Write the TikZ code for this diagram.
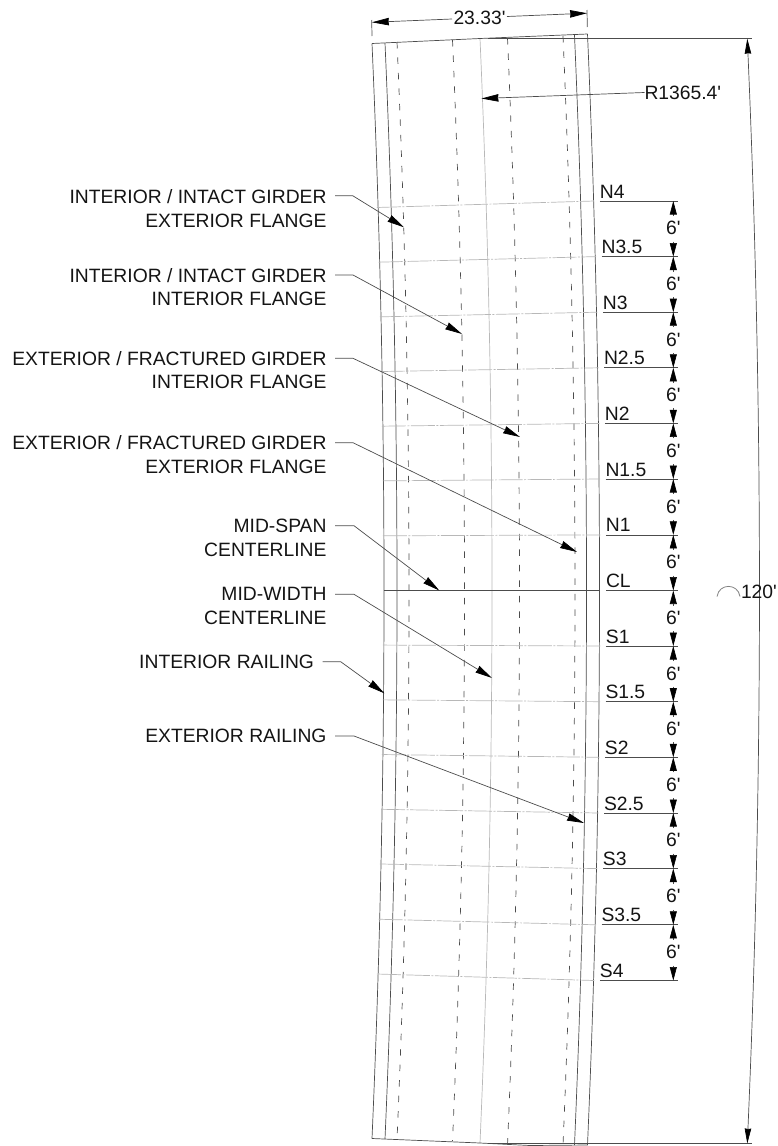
\documentclass[tikz,border=0pt]{standalone}
\usepackage{fontspec}
\setmainfont{Liberation Sans}[Ligatures=TeXOff]
\usetikzlibrary{arrows.meta}
\definecolor{ink}{gray}{0.08}
\definecolor{linegray}{gray}{0.30}
\definecolor{palegray}{gray}{0.72}
\newcommand{\railcurve}[4][]{% options, x at ends, y top, y bottom
  \draw[#1] (#2,#3) .. controls ({#2+16},{#3+(590-#3)*2/3}) and ({#2+16},{#4-(#4-590)*2/3}) .. (#2,#4);}
\tikzset{
  lbl/.style={font=\fontsize{19.3}{23.4}\selectfont,text=ink,inner sep=0pt,outer sep=0pt},
  railline/.style={draw=linegray,line width=0.7pt},
  dashline/.style={draw=linegray,line width=0.7pt,dash pattern=on 6.5pt off 9pt},
  centerline/.style={draw=palegray,line width=0.7pt},
  stationline/.style={draw=palegray,line width=0.7pt,dash pattern=on 24pt off 1.5pt on 2pt off 1.5pt},
  refline/.style={draw=linegray,line width=0.75pt},
  leaderline/.style={draw=linegray,line width=0.7pt,-{Stealth[inset=0.5pt,length=17pt,width=7.5pt,color=black]}},
  dimtip/.style={draw=linegray,line width=0.6pt,-{Stealth[inset=0pt,length=13.5pt,width=7pt,color=black]}},
}
\begin{document}
\begin{tikzpicture}[x=1pt,y=-1pt]
\useasboundingbox (0,0) rectangle (777,1146);
% longitudinal lines
\railcurve[railline]{372}{43.5}{1138.5}
\railcurve[railline]{385}{43}{1139}
\railcurve[dashline]{397}{42}{1139.5}
\railcurve[dashline]{452.5}{40}{1141}
\railcurve[centerline]{480}{38.5}{1143}
\railcurve[dashline]{507.5}{38}{1145}
\railcurve[dashline]{563}{36}{1145}
\railcurve[railline]{574.5}{35}{1145}
\railcurve[railline]{587.5}{34}{1145}
% ends
\draw[railline] (372,43.5) -- (480,38.5) -- (587.5,34);
\draw[railline] (372,1138.5) -- (480,1143) -- (530,1145.5) -- (587.5,1145);
% stations
\foreach \i/\name/\yy in {1/N4/201,2/N3.5/256.6,3/N3/312.2,4/N2.5/367.8,5/N2/423.4,6/N1.5/479,7/N1/534.9,9/S1/646,10/S1.5/701.7,11/S2/757.3,12/S2.5/813,13/S3/868.6,14/S3.5/924.8,15/S4/980.5}{
  \pgfmathsetmacro{\tt}{(\yy-590)/548}
  \pgfmathsetmacro{\bow}{12*(1-\tt*\tt)}
  \pgfmathsetmacro{\xl}{371+\bow}
  \pgfmathsetmacro{\xr}{588.5+\bow}
  \pgfmathsetmacro{\xs}{594+\bow}
  \pgfmathsetmacro{\yl}{\yy+(590.5-\yy)/60}
  \draw[stationline] (\xl,\yl) -- (\xr,\yy);
  \coordinate (m\i) at (678,\yy);
  \coordinate (s\i) at (\xs,\yy);
  \draw[refline] (s\i) -- (m\i);
  \node[lbl,anchor=base west] (t\i) at (\xs,{\yy-3}) {\name};
}
% centerline station
\draw[draw=linegray,line width=0.75pt] (384,590.5) -- (600,590.5);
\coordinate (m8) at (678,590.5);
\coordinate (s8) at (606,590.5);
\draw[refline] (s8) -- (m8);
\node[lbl,anchor=base west] (t8) at (606,587.5) {CL};
% six-foot dimensions
\foreach \i/\yy/\yb in {1/201/256.6,2/256.6/312.2,3/312.2/367.8,4/367.8/423.4,5/423.4/479,6/479/534.9,7/534.9/590.5,8/590.5/646,9/646/701.7,10/701.7/757.3,11/757.3/813,12/813/868.6,13/868.6/924.8,14/924.8/980.5}{
  \node[lbl] (d\i) at (673.3,{(\yy+\yb)/2-0.5}) {6'};
  \coordinate (du\i) at (673.3,\yy);
  \coordinate (dl\i) at (673.3,\yb);
  \coordinate (su\i) at (673.3,{\yy+15});
  \coordinate (sl\i) at (673.3,{\yb-15});
  \draw[dimtip] (su\i) -- (du\i);
  \draw[dimtip] (sl\i) -- (dl\i);
}
% width dimension
\coordinate (wa) at (371.7,20);
\coordinate (wb) at (372,36);
\coordinate (wc) at (587,10);
\coordinate (wd) at (587.3,27);
\draw[railline] (wa) -- (wb);
\draw[railline] (wc) -- (wd);
\node[lbl] (w) at (479.5,17.5) {23.33'};
\coordinate (wl) at (371.9,22.3);
\coordinate (wr) at (587,13.2);
\coordinate (wla) at (452,19);
\coordinate (wra) at (507,16.5);
\draw[leaderline] (wla) -- (wl);
\draw[leaderline] (wra) -- (wr);
% radius
\node[lbl,anchor=west] (r) at (644.5,92.5) {R1365.4'};
\coordinate (re) at (481.5,98.5);
\draw[leaderline] (r.west) -- (re);
% length dimension
\coordinate (ta) at (488,38.7);
\coordinate (tb) at (752,38.7);
\coordinate (ba) at (488,1143.5);
\coordinate (bb) at (752,1143.5);
\draw[refline] (ta) -- (tb);
\draw[refline] (ba) -- (bb);
\coordinate (at) at (747.3,38.7);
\coordinate (ab) at (747.3,1143.5);
\draw[draw=linegray,line width=0.7pt,{Stealth[inset=0.5pt,length=15pt,width=6.5pt,color=black]}-{Stealth[inset=0.5pt,length=15pt,width=6.5pt,color=black]}]
  (at) .. controls (763.3,406.5) and (763.3,775.5) .. (ab);
\node[lbl,anchor=west] (l) at (741,591.5) {120'};
\draw[draw=linegray!70,line width=0.8pt] (717,596.5) .. controls (719,583) and (738,583) .. (740,596.5);
% callouts
\foreach \i/\txt/\cy/\tr/\ys/\xa/\xb/\xe/\ye in {
  1/{INTERIOR / INTACT GIRDER\\EXTERIOR FLANGE}/208.4/326.5/195.7/335/352.7/404/227.3,
  2/{INTERIOR / INTACT GIRDER\\INTERIOR FLANGE}/287/326.5/275/335/353/462/334,
  3/{EXTERIOR / FRACTURED GIRDER\\INTERIOR FLANGE}/370/326.5/358.3/335/353/520/437,
  4/{EXTERIOR / FRACTURED GIRDER\\EXTERIOR FLANGE}/454.7/326.5/442.7/335/353/577/552,
  5/{MID-SPAN\\CENTERLINE}/538/326.5/525.7/335/354/439.3/590.5,
  6/{MID-WIDTH\\CENTERLINE}/606/326.5/594.3/335/354/492/678,
  7/{INTERIOR RAILING}/662/314/661.7/322.7/340.7/384.3/693.3,
  8/{EXTERIOR RAILING}/736/326.5/736/335/354/584/823}{
  \node[lbl,anchor=east,align=right] (c\i) at (\tr,\cy) {\txt};
  \coordinate (ca\i) at (\xa,\ys);
  \coordinate (cb\i) at (\xb,\ys);
  \coordinate (ce\i) at (\xe,\ye);
  \draw[leaderline] (ca\i) -- (cb\i) -- (ce\i);
}
\end{tikzpicture}
\end{document}
